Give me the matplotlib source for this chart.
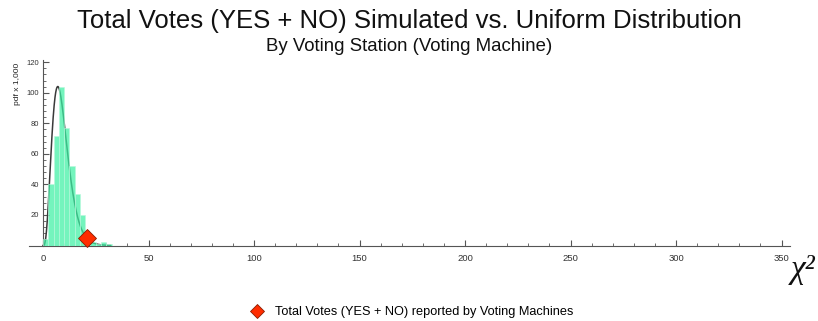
import math
import numpy as np
import matplotlib.pyplot as plt
from matplotlib.ticker import MultipleLocator
from matplotlib.lines import Line2D

plt.rcParams['font.family'] = ['Liberation Sans', 'DejaVu Sans']

# simulated chi-square statistics, histogram per 2.5 wide bin (pdf x 1,000)
bin_edges = [0, 2.5, 5, 7.5, 10, 12.5, 15, 17.5, 20, 22.5, 25, 27.5, 30, 32.5]
bin_heights = [4, 40, 72, 104, 77, 52, 34, 20, 6, 2.5, 0.8, 2.2, 1]

# reference chi-square density
dof = 9

# observed statistic for the voting machines
observed_x = 21
observed_y = 5


def chi2_pdf(x, k):
    return x ** (k / 2 - 1) * np.exp(-x / 2) / (2 ** (k / 2) * math.gamma(k / 2))


fig = plt.figure(figsize=(8.18, 3.21), dpi=100)
ax = fig.add_axes([0.0358, 0.2352, 0.93, 0.578])

xs = np.linspace(0, 32, 400)
ax.plot(xs, chi2_pdf(xs, dof) * 1000, color='#3a3a3a', lw=1.1, zorder=2)

widths = np.diff(bin_edges)
ax.bar(bin_edges[:-1], bin_heights, width=widths, align='edge',
       color='#3ef0a4', alpha=0.72, edgecolor='#b8f8dc', lw=0.6, zorder=3)

ax.plot([observed_x], [observed_y], marker='D', ms=9, color='#ff2d00',
        mec='#8a1c00', mew=0.6, ls='none', zorder=5, clip_on=False)

ax.set_xlim(-6.5, 354)
ax.set_ylim(0, 121.5)

for s in ['top', 'right']:
    ax.spines[s].set_visible(False)
ax.spines['left'].set_position(('data', 0))
ax.spines['bottom'].set_position(('data', 0))
for s in ['left', 'bottom']:
    ax.spines[s].set_color('#555555')
    ax.spines[s].set_linewidth(0.8)

ax.set_xticks(np.arange(0, 351, 50))
ax.xaxis.set_minor_locator(MultipleLocator(10))
ax.set_yticks(np.arange(20, 121, 20))
ax.yaxis.set_minor_locator(MultipleLocator(4))
ax.tick_params(which='both', direction='in', colors='#555555', labelcolor='#333333')
ax.tick_params(axis='x', which='major', length=4, width=0.8, labelsize=6.8, pad=6)
ax.tick_params(axis='x', which='minor', length=2, width=0.6)
ax.tick_params(axis='y', which='major', length=4, width=0.8, labelsize=5.5, pad=3)
ax.tick_params(axis='y', which='minor', length=2, width=0.6)

fig.text(0.021, 0.74, 'pdf x 1,000', rotation=90, ha='center', va='center',
         fontsize=6, color='#222222')
fig.text(0.967, 0.16, 'χ²', family=['Liberation Serif', 'DejaVu Serif'],
         style='italic', fontsize=24, ha='left', va='center', color='#111111')

fig.text(0.5, 0.935, 'Total Votes (YES + NO) Simulated vs. Uniform Distribution',
         ha='center', va='center', fontsize=18.5, color='#111111')
fig.text(0.5, 0.855, 'By Voting Station (Voting Machine)',
         ha='center', va='center', fontsize=13.4, color='#111111')

handle = Line2D([], [], marker='D', ms=7, color='#ff2d00', mec='#8a1c00',
                mew=0.6, ls='none')
fig.legend([handle], ['Total Votes (YES + NO) reported by Voting Machines'],
           loc='center', bbox_to_anchor=(0.5, 0.028), frameon=False,
           fontsize=9.2, handletextpad=0.4)

fig.savefig('out.png', dpi=100)
